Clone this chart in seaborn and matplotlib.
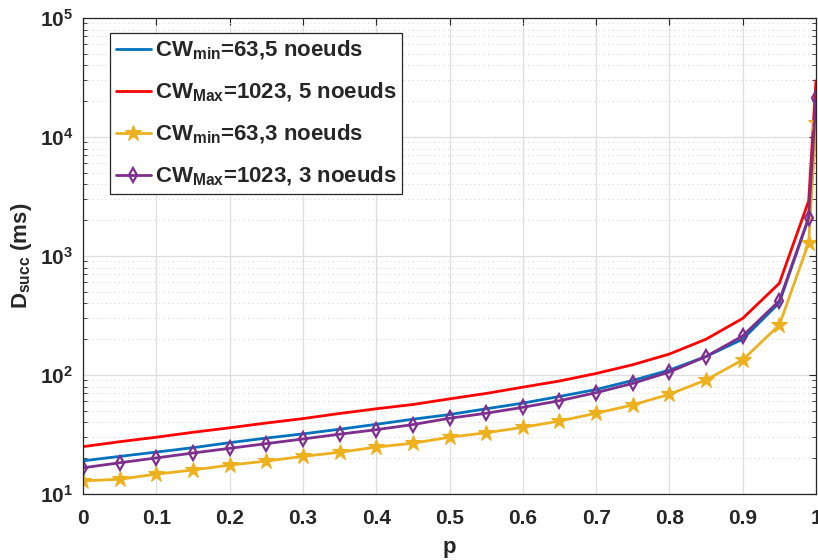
import numpy as np
import pandas as pd
import matplotlib
matplotlib.use("Agg")
import matplotlib.pyplot as plt
import seaborn as sns
from matplotlib.ticker import FixedLocator, FuncFormatter, LogLocator, NullFormatter

# ---- data ----
p = [0.00, 0.05, 0.10, 0.15, 0.20, 0.25, 0.30, 0.35, 0.40, 0.45,
     0.50, 0.55, 0.60, 0.65, 0.70, 0.75, 0.80, 0.85, 0.90, 0.95, 0.99, 1.00]
cwmin_5 = [19.0, 20.7, 22.5, 24.5, 27.0, 29.5, 32.0, 35.0, 38.5, 42.5,
           46.5, 52.0, 58.0, 66.0, 75.5, 90.0, 110, 143, 200, 405, 2080, 21000]
cwmax_5 = [25.0, 27.5, 30.0, 33.0, 36.0, 39.5, 43.0, 47.5, 52.0, 56.5,
           63.0, 70.0, 79.0, 89.0, 103, 122, 150, 200, 299, 590, 2900, 29700]
cwmin_3 = [12.9, 13.3, 14.7, 15.9, 17.5, 18.9, 20.7, 22.4, 24.8, 26.7,
           30.0, 32.7, 36.3, 41.0, 47.7, 56.0, 68.9, 90.8, 134, 263, 1290, 13200]
cwmax_3 = [16.6, 18.3, 20.1, 22.1, 24.2, 26.5, 29.0, 31.8, 34.7, 38.3,
           43.3, 47.7, 53.5, 60.8, 71.0, 85.0, 106, 143, 213, 421, 2100, 21400]

labels = [r"$\mathbf{CW_{min}}$=63,5 noeuds",
          r"$\mathbf{CW_{Max}}$=1023, 5 noeuds",
          r"$\mathbf{CW_{min}}$=63,3 noeuds",
          r"$\mathbf{CW_{Max}}$=1023, 3 noeuds"]
xticks = [0, 0.1, 0.2, 0.3, 0.4, 0.5, 0.6, 0.7, 0.8, 0.9, 1]
xticklabels = ["0", "0.1", "0.2", "0.3", "0.4", "0.5", "0.6", "0.7", "0.8", "0.9", "1"]

sns.set_theme(style="white")
plt.rcParams["font.family"] = ["Liberation Sans", "DejaVu Sans"]
plt.rcParams["font.weight"] = "bold"
plt.rcParams["mathtext.fontset"] = "custom"
plt.rcParams["mathtext.rm"] = "Liberation Sans:bold"
plt.rcParams["mathtext.bf"] = "Liberation Sans:bold"
plt.rcParams["mathtext.it"] = "Liberation Sans:bold"

fig = plt.figure(figsize=(8.18, 5.60), dpi=100)
ax = fig.add_axes([83/818, 1-494/560, 733/818, 476/560])

styles = [
    dict(color="#0072BD", marker=None),
    dict(color="#FF0000", marker=None),
    dict(color="#EDB120", marker="*", markersize=12, markerfacecolor="#EDB120", markeredgecolor="#EDB120"),
    dict(color="#7E2F8E", marker="d", markersize=7, markerfacecolor="none", markeredgecolor="#7E2F8E", markeredgewidth=1.6),
]
series = [cwmin_5, cwmax_5, cwmin_3, cwmax_3]
for ys, lab, st in zip(series, labels, styles):
    sns.lineplot(x=p, y=ys, ax=ax, label=lab, linewidth=2.0, sort=False, **st)

ax.set_yscale("log")
ax.set_xlim(0, 1)
ax.set_ylim(10, 1e5)

ax.xaxis.set_major_locator(FixedLocator(xticks))
ax.set_xticklabels(xticklabels)
ax.yaxis.set_major_locator(FixedLocator([1e1, 1e2, 1e3, 1e4, 1e5]))
ax.yaxis.set_major_formatter(FuncFormatter(lambda v, pos: r"$\mathbf{10^{%d}}$" % int(round(np.log10(v)))))
ax.yaxis.set_minor_locator(LogLocator(base=10, subs=np.arange(2, 10)))
ax.yaxis.set_minor_formatter(NullFormatter())

ax.tick_params(axis="x", which="major", pad=11)
ax.tick_params(axis="y", which="major", pad=7)
ax.tick_params(axis="both", which="major", direction="in", length=5, width=0.8,
               top=True, right=True, labelsize=15, colors="#262626")
ax.tick_params(axis="y", which="minor", direction="in", length=3, width=0.6, left=True, right=True, colors="#262626")
for lab in ax.get_xticklabels() + ax.get_yticklabels():
    lab.set_fontweight("bold")

ax.grid(True, which="major", color="#dedede", linewidth=0.9, linestyle="-")
ax.grid(True, which="minor", axis="y", color="#d8d8d8", linewidth=0.8, linestyle=(0, (1, 3)))
ax.set_axisbelow(True)

for s in ax.spines.values():
    s.set_color("#262626")
    s.set_linewidth(0.9)

ax.set_xlabel("p", fontsize=16, fontweight="bold", color="#262626", labelpad=6)
ax.set_ylabel(r"$\mathbf{D_{succ}}$ (ms)", fontsize=16, fontweight="bold", color="#262626", labelpad=4)

leg = ax.legend(loc="upper left", bbox_to_anchor=(0.037, 0.968), fontsize=16,
                frameon=True, fancybox=False, edgecolor="#262626", framealpha=1,
                handlelength=1.6, handletextpad=0.15, labelspacing=0.85,
                borderpad=0.25, borderaxespad=0)
leg.get_frame().set_linewidth(0.9)
for t in leg.get_texts():
    t.set_fontweight("bold")

fig.savefig("out.png", dpi=100)
